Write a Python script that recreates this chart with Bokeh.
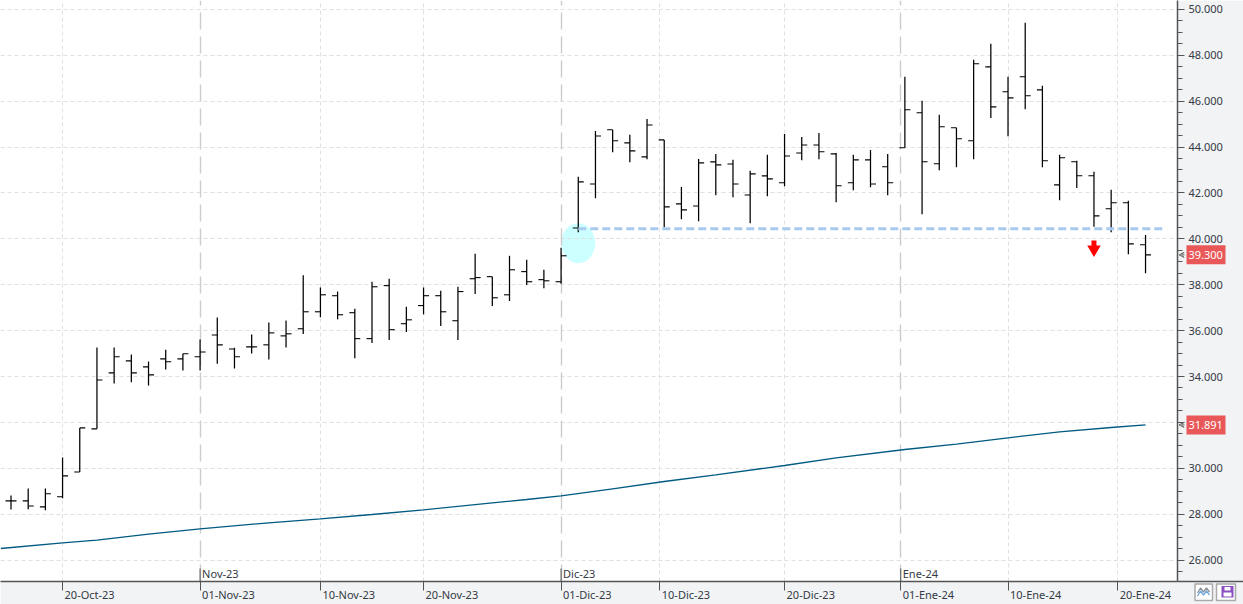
from bokeh.plotting import figure
from bokeh.layouts import column
from bokeh.models import (Range1d, LinearAxis, SingleIntervalTicker, FixedTicker, Grid,
                          ColumnDataSource, Arrow, VeeHead, PrintfTickFormatter)
from bokeh.core.properties import value
from bokeh.embed import file_html
from bokeh.resources import INLINE

# ---- price bars (one per session) ----
highs = [28.81,29.12,29.12,30.47,31.76,35.26,35.26,34.96,34.65,35.17,34.99,35.61,36.57,35.25,35.83,36.35,36.44,
         38.41,37.88,37.70,36.95,38.13,38.26,37.04,37.88,37.74,37.91,39.35,38.35,39.26,39.09,38.65,39.61,
         42.70,44.70,44.75,44.53,45.22,44.31,42.26,43.48,43.70,43.44,42.96,43.66,44.57,44.44,44.61,43.74,43.66,43.87,
         43.70,47.06,46.01,45.40,44.84,47.80,48.50,47.06,49.41,46.67,43.66,43.40,42.92,42.14,41.66,40.17]
lows = [28.20,28.22,28.17,28.70,29.84,31.72,33.69,33.75,33.61,34.30,34.26,34.26,34.56,34.35,35.00,34.74,35.26,
        35.85,36.58,36.49,34.80,35.46,35.59,35.94,36.71,36.20,35.59,37.59,37.07,37.29,37.99,37.85,38.04,
        40.29,41.77,43.77,43.34,43.47,40.49,40.85,40.77,41.90,41.81,40.68,41.85,42.29,43.42,43.47,41.59,42.12,42.25,
        41.90,43.97,41.07,42.99,43.12,43.47,45.26,44.47,45.65,43.12,41.68,42.21,40.52,40.29,39.33,38.50]
opens = [28.58,28.58,28.32,28.76,29.84,31.72,34.16,34.68,34.42,34.77,34.77,34.86,35.81,35.20,35.29,35.38,35.77,
         36.08,36.82,37.52,36.78,35.65,37.96,36.30,37.09,37.52,36.43,38.26,38.35,37.56,38.57,38.22,38.13,
         40.47,42.39,44.75,44.18,43.57,44.31,41.52,41.43,43.35,43.26,41.91,42.74,42.44,43.74,44.09,43.70,42.44,43.44,
         43.14,43.97,45.49,43.27,44.84,44.27,47.49,46.41,47.06,46.49,42.35,43.36,42.75,41.31,41.57,39.74]
closes = [28.58,28.36,28.89,29.67,31.76,33.85,34.86,34.16,34.07,34.64,34.99,35.07,35.38,34.86,35.29,35.90,35.86,
          36.82,37.56,36.69,35.65,37.91,36.04,36.47,37.52,36.82,37.70,38.31,37.43,38.65,38.13,38.17,39.26,
          42.48,44.48,44.27,43.83,44.96,41.39,41.26,43.31,43.22,42.39,42.83,42.61,43.61,44.09,43.79,42.31,43.44,42.39,
          42.44,45.62,43.36,44.88,44.36,47.63,45.75,46.14,46.23,43.40,43.53,42.75,41.00,41.57,39.78,39.30]

# ---- moving average ----
ma_index = [-0.6,3,5,8,11,15,18,21,24,28,30,32,35,38,41,45,48,52,55,58,61,64,66]
ma_values = [26.505,26.754,26.87,27.13,27.364,27.625,27.80,27.987,28.192,28.497,28.64,28.80,29.107,29.425,
             29.717,30.122,30.457,30.82,31.05,31.329,31.59,31.778,31.891]

# ---- axis labels ----
day_ticks = [3,11,18,24,32,37.74,45,51.76,58,64.38]
day_labels = ["20-Oct-23","01-Nov-23","10-Nov-23","20-Nov-23","01-Dic-23","10-Dic-23","20-Dic-23","01-Ene-24","10-Ene-24","20-Ene-24"]
month_ticks = [11,32,51.76]
month_labels = ["Nov-23","Dic-23","Ene-24"]

# ---- annotations ----
support_level = 40.44
support_start, support_end = 33, 67
signal_bar = 63
circle_bar, circle_price = 33, 39.81
last_price = 39.30
last_ma = 31.891

W, H = 1243, 604
PLOT_R, PLOT_B = 1177, 581
PXI, PXV = 17.19, 22.95
def X(px): return (px - 10.5) / PXI
def Y(py): return 40 - (py - 238.3) / PXV

FONT = "Noto Sans"
TXT = "#333a45"
FS = "11px"

p = figure(width=W, height=H, output_backend="svg", toolbar_location=None,
           x_range=Range1d(X(0), X(PLOT_R)), y_range=Range1d(Y(PLOT_B), Y(0)),
           x_axis_location=None, y_axis_location=None, frame_align=False,
           min_border_left=0, min_border_top=0, min_border_right=W-PLOT_R, min_border_bottom=H-PLOT_B)
p.outline_line_color = None
p.background_fill_color = "#ffffff"
p.border_fill_color = "#f2f3f4"
p.xgrid.visible = False
p.ygrid.visible = False

# grids
p.add_layout(Grid(dimension=1, ticker=SingleIntervalTicker(interval=2), grid_line_color="#e0e0e0",
                  grid_line_dash="4 3", grid_line_width=1, level="underlay"))
other_ticks = [t for t in day_ticks if t not in month_ticks]
p.add_layout(Grid(dimension=0, ticker=FixedTicker(ticks=other_ticks), grid_line_color="#e0e0e0",
                  grid_line_dash="4 3", grid_line_width=1, level="underlay"))
p.add_layout(Grid(dimension=0, ticker=FixedTicker(ticks=month_ticks), grid_line_color="#cccccc",
                  grid_line_dash="17 7", grid_line_width=1.4, level="underlay"))

# circle beneath the grid
p.ellipse(x=[circle_bar], y=[circle_price], width=34/PXI, height=40/PXV, fill_color="#ccffff",
          line_color=None, level="image")

# axes
yax = LinearAxis(ticker=SingleIntervalTicker(interval=2, num_minor_ticks=4),
                 formatter=PrintfTickFormatter(format="%.3f"))
yax.axis_line_color = "#555555"; yax.axis_line_width = 1.5
yax.major_tick_line_color = "#555555"; yax.minor_tick_line_color = "#555555"
yax.major_tick_in = 0; yax.major_tick_out = 7
yax.minor_tick_in = 0; yax.minor_tick_out = 5
yax.major_label_standoff = 4
yax.major_label_text_font = FONT; yax.major_label_text_font_size = FS
yax.major_label_text_color = TXT
p.add_layout(yax, "right")

xax = LinearAxis(ticker=FixedTicker(ticks=day_ticks))
xax.axis_line_color = "#555555"; xax.axis_line_width = 1.5
xax.major_tick_line_color = "#555555"
xax.major_tick_in = 0; xax.major_tick_out = 9
xax.minor_tick_line_color = None
xax.major_label_overrides = {t: "" for t in day_ticks}
p.add_layout(xax, "below")

# month ticks
p.segment(x0=month_ticks, x1=month_ticks, y0=[Y(568)]*3, y1=[Y(PLOT_B)]*3, line_color="#555555", line_width=1)
p.text(x=month_ticks, y=[Y(572.5)]*3, text=month_labels, x_offset=2, text_align="left", text_baseline="middle",
       text_font=value(FONT), text_font_size=FS, text_color=TXT)

# moving average
p.line(ma_index, ma_values, line_color="#005a82", line_width=1.3)

# bars
idx = list(range(len(highs)))
s = ColumnDataSource(dict(x=idx, hi=highs, lo=lows, o=opens, c=closes,
                          xl=[i - 0.32 for i in idx], xr=[i + 0.32 for i in idx]))
p.segment("x", "lo", "x", "hi", source=s, line_color="#000000", line_width=1.25)
p.segment("xl", "o", "x", "o", source=s, line_color="#000000", line_width=1.1)
p.segment("x", "c", "xr", "c", source=s, line_color="#000000", line_width=1.1)

# support
p.line([support_start, support_end], [support_level, support_level], line_color="#a9c9ee",
       line_width=3, line_dash="8 4")

# signal arrow
p.segment(x0=[signal_bar], x1=[signal_bar], y0=[Y(240)], y1=[Y(246.5)], line_color="#ff0000", line_width=5)
p.scatter(x=[signal_bar], y=[Y(248.8)], marker="inverted_triangle", size=13.5, fill_color="#ff0000", line_color=None)

# ---- transparent layer on the same scales for what sits outside the plot frame ----
q = figure(width=W, height=H, output_backend="svg", toolbar_location=None,
           x_range=Range1d(X(0), X(W)), y_range=Range1d(Y(H), Y(0)),
           x_axis_location=None, y_axis_location=None, frame_align=False,
           min_border_left=0, min_border_top=0, min_border_right=0, min_border_bottom=0)
q.margin = (-H, 0, 0, 0)
q.outline_line_color = None
q.background_fill_alpha = 0
q.border_fill_alpha = 0
q.xgrid.visible = False
q.ygrid.visible = False

q.text(x=day_ticks, y=[Y(593.5)]*len(day_ticks), text=day_labels, x_offset=2, text_align="left",
       text_baseline="middle", text_font=value(FONT), text_font_size=FS, text_color=TXT)
q.line([X(PLOT_R), X(W)], [Y(PLOT_B), Y(PLOT_B)], line_color="#555555", line_width=1.5)

for v in (last_price, last_ma):
    cy = 238.3 + (40 - v) * PXV
    q.quad(left=[X(1186)], right=[X(1225)], top=[Y(cy-9.5)], bottom=[Y(cy+9.5)], fill_color="#e95858", line_color=None)
    q.text(x=[X(1188)], y=[v], text=["%.3f" % v], text_color="#ffffff", text_font=value(FONT),
           text_font_size=FS, text_baseline="middle", text_align="left")
    q.add_layout(Arrow(x_start=X(1184), y_start=v, x_end=X(1178.5), y_end=v, line_color="#666666", line_width=1,
                       end=VeeHead(size=5, fill_color=None, line_color="#666666", line_width=1)))

# bottom-right buttons
q.quad(left=[X(1194.5), X(1216)], right=[X(1212), X(1235)], top=[Y(583.5)]*2, bottom=[Y(600)]*2,
       fill_color="#ffffff", line_color="#aaaaaa", line_width=1.5)
q.quad(left=[X(1221)], right=[X(1233)], top=[Y(585.5)], bottom=[Y(597)], fill_color="#8a4fc4", line_color=None)
q.quad(left=[X(1224), X(1223)], right=[X(1230), X(1231)], top=[Y(586.5), Y(592)], bottom=[Y(590), Y(596)],
       fill_color="#ffffff", line_color=None)
wave_x = [1197, 1200, 1203, 1206, 1209]
wave_y = [594, 589, 593, 589, 593]
for off, col in ((-1.5, "#8a8f98"), (1.5, "#6fa8dc")):
    q.line([X(a) for a in wave_x], [Y(b + off) for b in wave_y], line_color=col, line_width=1.3)

layout = column(p, q, spacing=0)
open("out.html", "w").write(file_html(layout, INLINE))
